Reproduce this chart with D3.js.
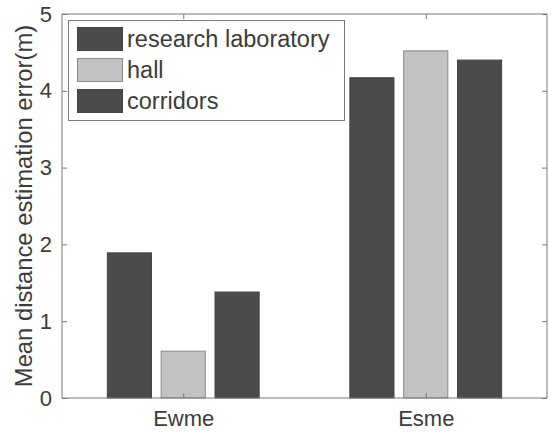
<!DOCTYPE html>
<html><head><meta charset="utf-8">
<script src="https://cdn.jsdelivr.net/npm/d3@7"></script>
<style>body{margin:0;background:#fff;} svg{display:block;font-family:"Liberation Sans",Arial,sans-serif;}</style>
</head><body>
<svg id="c" width="551" height="432"></svg>
<script>
const categories = ["Ewme", "Esme"];
const seriesNames = ["research laboratory", "hall", "corridors"];
const researchLab = [1.89, 4.17];
const hall = [0.61, 4.52];
const corridors = [1.38, 4.40];
const yTicks = [0, 1, 2, 3, 4, 5];
const seriesColors = ["#4b4b4b", "#c2c2c2", "#4b4b4b"];
const seriesValues = [researchLab, hall, corridors];

const svg = d3.select("#c");
const L = 62, R = 547, T = 14, B = 398;
const x = d3.scaleLinear().domain([0.5, 2.5]).range([L, R]);
const y = d3.scaleLinear().domain([0, 5]).range([B, T]);
const offsets = [-0.222, 0, 0.222];
const bw = 0.182;
const axisColor = "#7a7a7a";
const textColor = "#3c3c3c";

// bars
seriesValues.forEach((vals, s) => {
  svg.selectAll(null).data(vals).enter().append("rect")
    .attr("x", (d, i) => x(i + 1 + offsets[s] - bw / 2))
    .attr("width", x(1 + bw) - x(1))
    .attr("y", d => y(d))
    .attr("height", d => B - y(d))
    .attr("fill", seriesColors[s])
    .attr("stroke", s === 1 ? "#8a8a8a" : "#444")
    .attr("stroke-width", 1);
});

// axes
const ax = svg.append("g").attr("fill", "none").attr("stroke", axisColor).attr("stroke-width", 1);
ax.append("rect").attr("x", L).attr("y", T).attr("width", R - L).attr("height", B - T);

const yl = svg.append("g").attr("transform", `translate(${L},0)`)
  .call(d3.axisLeft(y).tickValues(yTicks).tickSize(-5).tickPadding(10).tickFormat(d3.format("d")));
const yr = svg.append("g").attr("transform", `translate(${R},0)`)
  .call(d3.axisRight(y).tickValues(yTicks).tickSize(-5).tickFormat(""));
const xb = svg.append("g").attr("transform", `translate(0,${B})`)
  .call(d3.axisBottom(x).tickValues([1, 2]).tickSize(-5).tickPadding(12).tickFormat((d) => categories[d - 1]));
const xt = svg.append("g").attr("transform", `translate(0,${T})`)
  .call(d3.axisTop(x).tickValues([1, 2]).tickSize(-5).tickFormat(""));
[yl, yr, xb, xt].forEach(g => {
  g.select(".domain").remove();
  g.selectAll(".tick line").attr("stroke", axisColor);
  g.selectAll(".tick text").attr("fill", textColor).style("font-size", "22px")
    .style("font-family", '"Liberation Sans",Arial,sans-serif');
});
xb.selectAll(".tick text").attr("dy", "0.71em");

// y label
svg.append("text")
  .attr("transform", `translate(32,${(T + B) / 2}) rotate(-90)`)
  .attr("text-anchor", "middle")
  .attr("fill", textColor)
  .style("font-size", "23.8px")
  .text("Mean distance estimation error(m)");

// legend
const lg = svg.append("g");
lg.append("rect").attr("x", 68.5).attr("y", 20.5).attr("width", 276).attr("height", 100)
  .attr("fill", "#fff").attr("stroke", axisColor);
seriesNames.forEach((n, i) => {
  const yy = 27 + i * 31;
  lg.append("rect").attr("x", 77.5).attr("y", yy + 0.5).attr("width", 45).attr("height", 23)
    .attr("fill", seriesColors[i]).attr("stroke", i === 1 ? "#8a8a8a" : "#444");
  lg.append("text").attr("x", 127).attr("y", yy + 20).attr("fill", textColor)
    .style("font-size", "23.5px").text(n);
});
</script>
</body></html>
